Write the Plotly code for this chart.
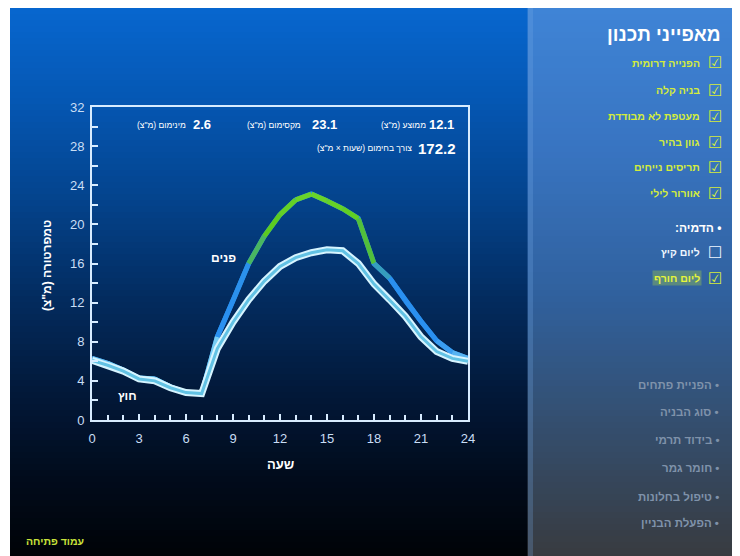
import plotly.graph_objects as go

# ---------------- data ----------------
hours = list(range(25))
inside_temp = [6.3, 5.8, 5.1, 4.3, 4.2, 3.4, 2.8, 2.7, 8.5, 12.2, 16.0, 18.8, 21.0,
               22.5, 23.1, 22.4, 21.6, 20.6, 16.0, 14.5, 12.2, 10.1, 8.1, 6.9, 6.3]
outside_temp = [6.1, 5.6, 5.0, 4.2, 4.0, 3.3, 2.8, 2.7, 7.3, 10.0, 12.3, 14.2, 15.7,
                16.6, 17.1, 17.4, 17.3, 16.0, 13.9, 12.3, 10.6, 8.5, 7.0, 6.3, 6.0]
x_ticks = [0, 3, 6, 9, 12, 15, 18, 21, 24]
y_ticks = [0, 4, 8, 12, 16, 20, 24, 28, 32]

stat_avg = "12.1"
stat_max = "23.1"
stat_min = "2.6"
stat_heat = "172.2"

lbl_avg = 'ממוצע (מ"צ)'
lbl_max = 'מקסימום (מ"צ)'
lbl_min = 'מינימום (מ"צ)'
lbl_heat = 'צורך בחימום (שעות × מ"צ)'

panel_title = "מאפייני תכנון"
design_items = ["הפנייה דרומית", "בניה קלה", "מעטפת לא מבודדת", "גוון בהיר",
                "תריסים נייחים", "אוורור לילי"]
sim_title = "• הדמיה:"
sim_items = ["ליום קיץ", "ליום חורף"]
sim_checked = [False, True]
nav_items = ["• הפניית פתחים", "• סוג הבניה", "• בידוד תרמי", "• חומר גמר",
             "• טיפול בחלונות", "• הפעלת הבניין"]
home_label = "עמוד פתיחה"
x_title = "שעה"
y_title = 'טמפרטורה (מ"צ)'
inside_label = "פנים"
outside_label = "חוץ"

# ---------------- geometry helpers (screen pixel coords) ----------------
OFF = 8                     # page body margin
FIG_W, FIG_H = 732, 548
L, R, T, B = 92, 468, 107, 420
W, H = R - L, B - T
def X(px): return (px - L) / W
def Y(py): return (B - py) / H

RLM = "\u200F"
def heb(s): return RLM + s + RLM

FONT = "Liberation Sans, Arial, DejaVu Sans, sans-serif"

def hex2rgb(h):
    h = h.lstrip("#")
    return tuple(int(h[i:i + 2], 16) for i in (0, 2, 4))

def blend(c1, c2, t):
    a, b = hex2rgb(c1), hex2rgb(c2)
    t = max(0.0, min(1.0, t))
    return "rgb(%d,%d,%d)" % tuple(round(a[i] + (b[i] - a[i]) * t) for i in range(3))

def grad_color(stops, py):
    for (y0, c0), (y1, c1) in zip(stops[:-1], stops[1:]):
        if y0 <= py <= y1:
            return blend(c0, c1, (py - y0) / (y1 - y0))
    return stops[-1][1]

shapes = []
left_stops = [(8, "#0766cf"), (100, "#0557b3"), (200, "#04438c"), (300, "#032b5e"),
              (400, "#021736"), (480, "#010b1b"), (556, "#000307")]
right_stops = [(8, "#3f84d6"), (150, "#3874c1"), (300, "#30609c"), (420, "#344f70"),
               (556, "#383b40")]
band = 6
py = 8
while py < 556:
    p2 = min(py + band, 556)
    mid = (py + p2) / 2
    shapes.append(dict(type="rect", xref="paper", yref="paper", layer="below",
                       x0=X(10), x1=X(528), y0=Y(p2 + 0.6), y1=Y(py),
                       fillcolor=grad_color(left_stops, mid), line=dict(width=0)))
    shapes.append(dict(type="rect", xref="paper", yref="paper", layer="below",
                       x0=X(527.5), x1=X(737), y0=Y(p2 + 0.6), y1=Y(py),
                       fillcolor=grad_color(right_stops, mid), line=dict(width=0)))
    py = p2
# light strip at panel edge
shapes.append(dict(type="rect", xref="paper", yref="paper", layer="below",
                   x0=X(528), x1=X(533), y0=Y(556), y1=Y(8),
                   fillcolor="rgba(120,170,230,0.25)", line=dict(width=0)))

# ---------------- traces ----------------
def inside_color(t):
    if t <= 5:
        return blend("#8adcf5", "#8adcf5", 0)
    if t <= 8:
        return blend("#8adcf5", "#2a90f0", (t - 5) / 3)
    if t <= 14:
        return blend("#2a90f0", "#2a90f0", 0)
    if t <= 19:
        return blend("#2a90f0", "#58c81e", (t - 14) / 5)
    return blend("#58c81e", "#6ad42a", (t - 19) / 4)

fig = go.Figure()
fig.add_trace(go.Scatter(x=hours, y=inside_temp, mode="lines",
                         line=dict(color="#2a90f0", width=5), hoverinfo="skip"))
for i in range(len(hours) - 1):
    tmid = (inside_temp[i] + inside_temp[i + 1]) / 2
    fig.add_trace(go.Scatter(x=hours[i:i + 2], y=inside_temp[i:i + 2], mode="lines",
                             line=dict(color=inside_color(tmid), width=5),
                             hoverinfo="skip"))
fig.add_trace(go.Scatter(x=hours, y=outside_temp, mode="lines",
                         line=dict(color="#d6f4ff", width=7), hoverinfo="skip"))
fig.add_trace(go.Scatter(x=hours, y=outside_temp, mode="lines",
                         line=dict(color="#62c2e4", width=3), hoverinfo="skip"))

# ---------------- annotations ----------------
ann = []
def add(text, px, py, size=12, color="white", xanchor="right", bold=False, **kw):
    t = "<b>%s</b>" % text if bold else text
    ann.append(dict(text=t, x=X(px), y=Y(py), xref="paper", yref="paper",
                    xanchor=xanchor, yanchor="middle", showarrow=False,
                    font=dict(size=size, color=color, family=FONT), **kw))

# stats
add(stat_avg, 456, 125, size=13, bold=True)
add(heb(lbl_avg), 428, 125, size=8.5)
add(stat_max, 339, 125, size=13, bold=True)
add(heb(lbl_max), 303, 125, size=8.5)
add(stat_min, 213, 125, size=13, bold=True)
add(heb(lbl_min), 188, 125, size=8.5)
add(stat_heat, 458, 148, size=15, bold=True)
add(heb(lbl_heat), 414, 148, size=8.5)

# curve labels
add(heb(inside_label), 238, 258, size=12, bold=True)
add(heb(outside_label), 139, 396, size=12, bold=True)

# axis titles
add(heb(x_title), 280, 464, size=13, bold=True, xanchor="center")
add(heb(y_title), 47, 266, size=12, bold=True, xanchor="center", textangle=-90)

# right panel
add(heb(panel_title), 723, 35, size=19, bold=True)
item_y = [63, 90, 116, 142, 167, 193]
for txt, yy in zip(design_items, item_y):
    add(heb(txt), 702, yy, size=10.5, color="#d4ec3c", bold=True)
    add("☑", 715, yy, size=16, color="#d4ec3c", xanchor="center")
add(heb(sim_title), 723, 228, size=12, bold=True)
sim_y = [252, 278]
for txt, yy, chk in zip(sim_items, sim_y, sim_checked):
    if chk:
        add(heb(txt), 702, yy, size=10.5, color="#e6f53a", bold=True,
            bgcolor="rgba(170,210,70,0.35)")
        add("☑", 715, yy, size=16, color="#d4ec3c", xanchor="center")
    else:
        add(heb(txt), 702, yy, size=10.5, color="#eef6ff", bold=True)
        add("☐", 715, yy, size=16, color="#eef6ff", xanchor="center")
nav_y = [385, 412, 440, 468, 497, 523]
for txt, yy in zip(nav_items, nav_y):
    add(heb(txt), 721, yy, size=11.5, color="#7f92aa", bold=True)

# home link
add(heb(home_label), 86, 541, size=10.5, color="#c9e23a", bold=True)

# ---------------- layout ----------------
axis_common = dict(showgrid=False, zeroline=False, showline=True, mirror=True,
                   linecolor="#d8ecff", linewidth=2, ticks="inside",
                   tickcolor="#d8ecff", tickwidth=1.5, ticklen=6,
                   tickfont=dict(size=13, color="#c9def5", family=FONT))
fig.update_layout(
    width=FIG_W, height=FIG_H,
    margin=dict(l=L - OFF, r=FIG_W + OFF - R, t=T - OFF, b=FIG_H + OFF - B),
    paper_bgcolor="white", plot_bgcolor="rgba(0,0,0,0)",
    showlegend=False, shapes=shapes, annotations=ann,
    xaxis=dict(range=[0, 24], tickvals=x_ticks, ticktext=[str(v) for v in x_ticks],
               minor=dict(dtick=1, ticks="inside", ticklen=5, tickcolor="#d8ecff"),
               ticklabelstandoff=5, **axis_common),
    yaxis=dict(range=[0, 32], tickvals=y_ticks, ticktext=[str(v) for v in y_ticks],
               minor=dict(dtick=2, ticks="inside", ticklen=6, tickcolor="#d8ecff"),
               ticklabelstandoff=3, **axis_common),
)

fig.write_html("out.html")
